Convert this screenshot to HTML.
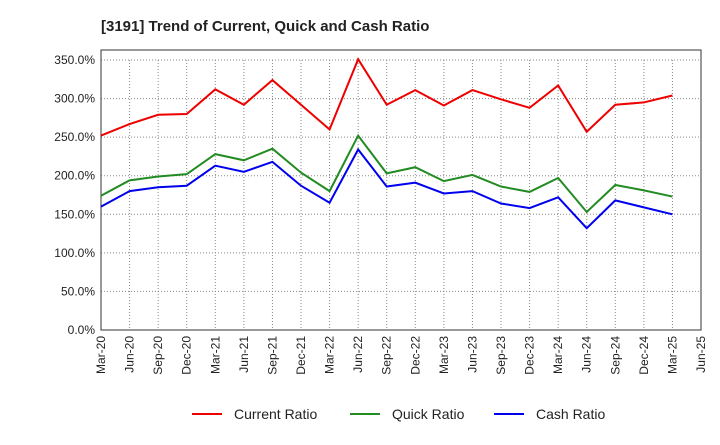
<!DOCTYPE html>
<html><head><meta charset="utf-8"><style>
body{margin:0;background:#fff;font-family:"Liberation Sans",sans-serif;}
</style></head><body>
<svg width="720" height="440" xmlns="http://www.w3.org/2000/svg">
<text x="101" y="31" font-size="15" font-weight="bold" fill="#222">[3191]  Trend of Current, Quick and Cash Ratio</text>
<g id="grid"></g><g id="axes"></g><g id="series"></g>
<g font-size="14" fill="#222">
<line x1="192" y1="414" x2="222" y2="414" stroke="#e00" stroke-width="2"/><text x="234" y="419">Current Ratio</text>
<line x1="350" y1="414" x2="380" y2="414" stroke="#228B22" stroke-width="2"/><text x="392" y="419">Quick Ratio</text>
<line x1="494" y1="414" x2="524" y2="414" stroke="#00e" stroke-width="2"/><text x="536" y="419">Cash Ratio</text>
</g>
</svg>
<script>
const xLabels=["Mar-20","Jun-20","Sep-20","Dec-20","Mar-21","Jun-21","Sep-21","Dec-21","Mar-22","Jun-22","Sep-22","Dec-22","Mar-23","Jun-23","Sep-23","Dec-23","Mar-24","Jun-24","Sep-24","Dec-24","Mar-25","Jun-25"];
const yTicks=[0,50,100,150,200,250,300,350];
const currentRatio=[252,267,279,280,312,292,324,292,260,351,292,311,291,311,299,288,317,257,292,295,304];
const quickRatio=[174,194,199,202,228,220,235,204,180,252,203,211,193,201,186,179,197,153,188,181,173];
const cashRatio=[160,180,185,187,213,205,218,187,165,234,186,191,177,180,164,158,172,132,168,159,150];
const NS="http://www.w3.org/2000/svg";
const L=101,R=701,T=60,B=330;
const xs=i=>L+i*(R-L)/(xLabels.length-1);
const ys=v=>B-v/350*(B-T);
function mk(tag,attrs,parent){const e=document.createElementNS(NS,tag);for(const k in attrs)e.setAttribute(k,attrs[k]);document.getElementById(parent).appendChild(e);return e;}
yTicks.forEach(v=>{
 const g=mk('line',{x1:L,x2:R,y1:ys(v),y2:ys(v),stroke:'#888','stroke-dasharray':'1,2','stroke-width':1},'grid');
 
 
 const t=mk('text',{x:L-6,y:ys(v)+4,'text-anchor':'end','font-size':12,fill:'#222'},'axes');
 t.textContent=v.toFixed(1)+'%';
 
 
});
xLabels.forEach((lab,i)=>{
 const g=mk('line',{x1:xs(i),x2:xs(i),y1:T,y2:B,stroke:'#888','stroke-dasharray':'1,2','stroke-width':1},'grid');
 
 
 const t=mk('text',{transform:`translate(${xs(i)+4},${B+6}) rotate(-90)`,'text-anchor':'end','font-size':12,fill:'#222'},'axes');
 t.textContent=lab;
 
 
});
const fr=mk('rect',{x:L,y:T-10,width:R-L,height:B-T+10,fill:'none',stroke:'#333','stroke-width':1},'axes');


[[currentRatio,'#e00','current-ratio-line'],[quickRatio,'#228B22','quick-ratio-line'],[cashRatio,'#00e','cash-ratio-line']].forEach(([d,c,n])=>{
 const p=mk('polyline',{points:d.map((v,i)=>xs(i)+','+ys(v)).join(' '),fill:'none',stroke:c,'stroke-width':2},'series');
 
 
});
</script>
</body></html>
